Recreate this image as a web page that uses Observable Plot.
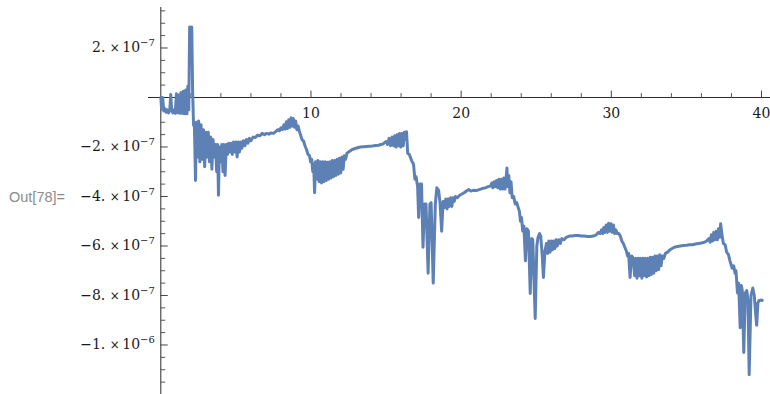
<!DOCTYPE html>
<html><head><meta charset="utf-8">
<script src="https://cdn.jsdelivr.net/npm/d3@7"></script>
<script src="https://cdn.jsdelivr.net/npm/@observablehq/plot@0.6"></script>
<style>
html,body{margin:0;padding:0;background:#fff;}
#wrap{position:relative;width:770px;height:394px;}
#out{position:absolute;left:9px;top:189px;font-family:"Liberation Sans",Arial,sans-serif;font-size:14.5px;color:#8c8c8c;z-index:2;}
svg{display:block;}
</style></head><body>
<div id="wrap"><div id="out">Out[78]=</div></div>
<script>
// Curve points: [x, value in units of 1e-7]
const curvePoints = [
[0.00,0.0],[0.05,-0.45],[0.12,0.0],[0.2,-0.55],[0.28,-0.45],[0.36,-0.6],[0.44,-0.5],[0.52,-0.62],[0.6,-0.5],[0.66,0.12],[0.72,-0.5],[0.8,-0.62],[0.88,-0.5],[0.96,-0.64],[1.04,0.15],[1.1,-0.62],[1.18,0.1],[1.26,-0.64],[1.34,0.2],[1.42,-0.64],[1.5,0.25],[1.58,-0.66],[1.66,0.3],[1.74,-0.66],[1.8,0.45],[1.86,-0.5],[1.92,2.85],[1.98,2.2],[2.06,2.85],[2.12,0.2],[2.18,-1.1],[2.24,-1.2],[2.31,-3.35],
[2.37,-1.0],[2.45,-2.4],[2.52,-0.95],[2.6,-2.6],[2.68,-1.1],[2.76,-2.5],[2.84,-1.3],[2.92,-2.8],[3.0,-1.4],[3.08,-2.4],[3.16,-1.4],[3.24,-2.6],[3.32,-1.6],[3.4,-2.9],[3.48,-1.7],[3.56,-2.4],[3.64,-1.9],[3.72,-3.0],[3.78,-1.9],[3.84,-3.95],[3.9,-2.0],[3.98,-2.6],[4.06,-1.9],[4.14,-3.0],[4.2,-1.9],[4.28,-3.15],[4.36,-1.9],[4.44,-2.3],[4.52,-1.85],[4.6,-2.2],[4.68,-1.85],[4.76,-2.3],[4.84,-1.8],[4.92,-2.2],[5.0,-1.8],[5.08,-2.4],[5.16,-1.8],[5.24,-2.2],[5.32,-1.8],
[5.4,-2.05],[5.5,-1.75],[5.6,-1.95],[5.7,-1.7],[5.8,-1.85],[5.9,-1.65],[6.0,-1.75],[6.15,-1.6],[6.3,-1.62],[6.45,-1.52],[6.6,-1.55],[6.75,-1.45],[6.9,-1.5],[7.05,-1.45],[7.2,-1.48],[7.35,-1.43],[7.5,-1.45],[7.65,-1.38],[7.8,-1.3],[7.9,-1.35],[8.0,-1.22],[8.1,-1.3],[8.2,-1.1],[8.28,-1.28],[8.36,-0.98],[8.44,-1.25],[8.52,-0.9],[8.6,-1.2],[8.68,-0.82],[8.76,-1.15],[8.82,-0.85],[8.9,-1.2],[8.98,-0.95],[9.06,-1.3],[9.14,-1.15],[9.22,-1.35],[9.3,-1.5],[9.4,-1.7],[9.5,-1.75],[9.6,-1.95],[9.7,-2.1],[9.8,-2.3],[9.9,-2.35],[9.98,-2.6],[10.05,-2.5],[10.12,-3.0],[10.18,-2.7],[10.24,-3.85],
[10.3,-2.6],[10.38,-3.3],[10.46,-2.55],[10.54,-3.4],[10.62,-2.6],[10.7,-3.45],[10.78,-2.6],[10.86,-3.4],[10.94,-2.6],[11.02,-3.35],[11.1,-2.62],[11.18,-3.3],[11.26,-2.6],[11.34,-3.25],[11.42,-2.55],[11.5,-3.2],[11.58,-2.55],[11.66,-3.15],[11.74,-2.5],[11.82,-3.1],[11.9,-2.45],[11.98,-3.05],[12.06,-2.4],[12.14,-2.9],[12.22,-2.35],[12.3,-2.5],[12.4,-2.25],
[12.55,-2.18],[12.7,-2.12],[12.85,-2.08],[13.0,-2.05],[13.15,-2.02],[13.3,-2.0],[13.5,-1.99],[13.7,-1.98],[13.9,-1.97],[14.1,-1.96],[14.3,-1.94],[14.5,-1.93],[14.65,-1.9],[14.8,-1.88],[14.9,-1.82],[15.0,-1.78],[15.1,-1.9],[15.2,-1.65],[15.3,-1.95],[15.4,-1.6],[15.5,-1.95],[15.58,-1.55],[15.66,-2.0],[15.74,-1.5],[15.82,-1.95],[15.9,-1.45],[15.98,-2.0],[16.06,-1.45],[16.14,-1.95],[16.22,-1.4],[16.3,-1.7],[16.36,-1.38],
[16.44,-2.25],[16.55,-2.3],[16.7,-2.55],[16.83,-2.7],[16.92,-3.3],[17.0,-3.2],[17.1,-3.6],[17.17,-4.85],[17.26,-3.5],[17.36,-3.5],[17.46,-6.05],[17.56,-4.3],[17.66,-4.3],[17.8,-7.1],[17.92,-4.3],[18.0,-4.25],[18.14,-7.5],[18.28,-4.3],[18.38,-3.65],[18.5,-3.75],[18.6,-4.3],[18.7,-5.4],[18.8,-4.2],[18.9,-4.45],[18.98,-4.1],[19.06,-4.5],[19.14,-4.1],[19.22,-4.4],[19.3,-4.05],[19.38,-4.4],[19.46,-4.05],[19.54,-4.2],[19.62,-4.0],[19.75,-4.05],[19.9,-3.95],[20.05,-3.9],[20.2,-3.85],[20.35,-3.78],[20.5,-3.72],[20.65,-3.78],[20.8,-3.75],[21.0,-3.76],[21.2,-3.72],[21.4,-3.68],[21.6,-3.65],[21.8,-3.6],[21.95,-3.58],[22.05,-3.45],[22.12,-3.65],[22.2,-3.4],[22.28,-3.6],[22.36,-3.35],[22.44,-3.65],[22.52,-3.3],[22.6,-3.7],[22.68,-3.3],[22.76,-3.7],[22.84,-3.25],[22.92,-3.7],[23.0,-3.2],[23.05,-2.85],[23.1,-3.6],[23.17,-3.15],[23.25,-3.85],[23.32,-3.4],[23.4,-4.05],
[23.5,-4.0],[23.6,-4.3],[23.7,-4.25],[23.8,-4.45],[23.88,-4.6],[23.95,-5.0],[24.02,-4.85],[24.1,-5.4],[24.18,-5.2],[24.28,-6.6],[24.38,-5.3],[24.48,-5.4],[24.6,-7.92],[24.7,-5.7],[24.77,-5.75],[24.93,-8.93],[25.04,-6.0],[25.12,-5.65],[25.22,-5.5],[25.3,-5.6],[25.4,-6.4],[25.48,-7.27],[25.58,-6.2],[25.68,-5.9],[25.76,-6.3],[25.84,-5.8],[25.92,-6.25],[26.0,-5.8],[26.08,-6.15],[26.16,-5.8],[26.24,-6.1],[26.32,-5.75],[26.4,-6.0],[26.5,-5.75],[26.6,-5.9],[26.7,-5.7],[26.85,-5.75],[27.0,-5.65],[27.2,-5.6],[27.4,-5.6],[27.6,-5.58],[27.8,-5.58],[28.0,-5.6],[28.2,-5.6],[28.4,-5.62],[28.6,-5.62],[28.8,-5.6],[29.0,-5.55],[29.15,-5.45],[29.25,-5.5],[29.35,-5.35],[29.42,-5.5],[29.5,-5.25],[29.58,-5.45],[29.66,-5.15],[29.74,-5.45],[29.82,-5.08],[29.9,-5.4],[29.98,-5.1],[30.06,-5.45],[30.14,-5.15],[30.22,-5.5],[30.3,-5.35],[30.4,-5.5],[30.5,-5.5],
[30.6,-5.6],[30.7,-5.8],[30.8,-5.9],[30.9,-6.05],[31.0,-6.2],[31.08,-6.4],[31.15,-6.3],[31.25,-7.27],[31.35,-6.4],[31.47,-6.5],[31.55,-7.2],[31.63,-6.5],[31.71,-7.3],[31.79,-6.5],[31.87,-7.2],[31.95,-6.5],[32.03,-7.3],[32.11,-6.5],[32.19,-7.2],[32.27,-6.5],[32.35,-7.25],[32.43,-6.5],[32.51,-7.2],[32.59,-6.45],[32.67,-7.15],[32.75,-6.45],[32.83,-7.1],[32.91,-6.4],[32.99,-7.0],[33.07,-6.4],[33.15,-6.95],[33.23,-6.35],[33.31,-6.8],[33.4,-6.4],[33.5,-6.5],[33.6,-6.3],[33.75,-6.25],[33.9,-6.15],[34.05,-6.1],[34.2,-6.05],[34.4,-6.02],[34.6,-6.0],[34.8,-5.98],[35.0,-5.97],[35.2,-5.95],[35.4,-5.95],[35.6,-5.92],[35.8,-5.9],[36.0,-5.88],
[36.2,-5.85],[36.35,-5.8],[36.5,-5.7],[36.58,-5.85],[36.66,-5.55],[36.74,-5.8],[36.82,-5.45],[36.9,-5.75],[36.98,-5.4],[37.06,-5.75],[37.14,-5.3],[37.22,-5.65],[37.28,-5.1],[37.36,-5.5],[37.46,-5.9],[37.58,-5.95],[37.68,-6.25],[37.8,-6.35],[37.9,-6.6],[38.05,-6.9],[38.15,-6.8],[38.24,-7.1],[38.3,-7.0],[38.4,-7.9],[38.48,-7.5],[38.58,-9.3],[38.66,-7.6],[38.72,-7.8],[38.82,-10.3],[38.92,-7.9],[39.02,-7.8],[39.1,-8.2],[39.18,-11.2],[39.3,-8.0],[39.42,-7.7],[39.52,-8.0],[39.62,-8.8],[39.68,-9.2],[39.76,-8.3],[39.84,-8.2],[40.0,-8.18],[40.05,-8.2]
];

const xTickValues = [10, 20, 30, 40];
const xTickLabels = ["10", "20", "30", "40"];
const xMinorTicks = [2,4,6,8,12,14,16,18,22,24,26,28,32,34,36,38];
const yTickValues = [2e-7, -2e-7, -4e-7, -6e-7, -8e-7, -1e-6];
const yTickMantissa = ["2.", "\u22122.", "\u22124.", "\u22126.", "\u22128.", "\u22121."];
const yTickExponent = ["\u22127", "\u22127", "\u22127", "\u22127", "\u22127", "\u22126"];
const yMinorTicks = d3.range(-23, 8).filter(k => k % 4 !== 0).map(k => k * 0.5e-7);

const data = curvePoints.map(([x, v]) => ({x, y: v * 1e-7}));

const tickLine = {draw(ctx, l) { ctx.moveTo(0, 0); ctx.lineTo(0, -l); }};
const axisColor = "#2a2a2a";
const serif = "DejaVu Serif";

const svg = Plot.plot({
  width: 770, height: 394,
  marginLeft: 148, marginRight: 0, marginTop: 7, marginBottom: 0,
  x: {domain: [-0.82, 40.6], axis: null},
  y: {domain: [-1.2e-6, 3.636e-7], axis: null},
  style: {background: "#fff"},
  marks: [
    Plot.ruleY([0], {stroke: axisColor, strokeWidth: 1}),
    Plot.ruleX([0], {stroke: axisColor, strokeWidth: 1}),
    Plot.vector(xTickValues, {x: d => d, y: 0, length: 6.5, rotate: 0, anchor: "start", shape: tickLine, stroke: "#444", strokeWidth: 1}),
    Plot.vector(xMinorTicks, {x: d => d, y: 0, length: 4, rotate: 0, anchor: "start", shape: tickLine, stroke: "#555", strokeWidth: 1}),
    Plot.vector(yTickValues, {x: 0, y: d => d, length: 6.5, rotate: 90, anchor: "start", shape: tickLine, stroke: "#444", strokeWidth: 1}),
    Plot.vector(yMinorTicks, {x: 0, y: d => d, length: 4, rotate: 90, anchor: "start", shape: tickLine, stroke: "#555", strokeWidth: 1}),
    Plot.line(data, {x: "x", y: "y", stroke: "#5E81B5", strokeWidth: 3, strokeLinejoin: "round", strokeLinecap: "round"}),
    Plot.text(xTickValues, {x: d => d, y: 0, text: (d, i) => xTickLabels[i], dy: 16, fontFamily: serif, fontSize: 14, fill: "#1a1a1a"}),
    Plot.text(yTickValues, {x: 0, y: d => d, text: (d, i) => yTickMantissa[i], dx: -6, textAnchor: "end", fontFamily: serif, fontSize: 14, fill: "#1a1a1a"})
  ]
});

// superscript exponent formatting for y labels
const ns = "http://www.w3.org/2000/svg";
svg.querySelectorAll("text").forEach(t => {
  const m = t.textContent;
  const i = yTickMantissa.indexOf(m);
  if (i < 0) return;
  while (t.firstChild) t.removeChild(t.firstChild);
  const a = document.createElementNS(ns, "tspan"); a.textContent = m + " "; t.appendChild(a);
  const b = document.createElementNS(ns, "tspan"); b.textContent = "\u00d7\u2009"; b.setAttribute("font-size", "12"); t.appendChild(b);
  const c = document.createElementNS(ns, "tspan"); c.textContent = "10"; c.setAttribute("font-size", "14"); t.appendChild(c);
  const e = document.createElementNS(ns, "tspan"); e.textContent = yTickExponent[i]; e.setAttribute("font-size", "10"); e.setAttribute("dy", "-6"); t.appendChild(e);
});

document.getElementById("wrap").appendChild(svg);
</script>
</body></html>
